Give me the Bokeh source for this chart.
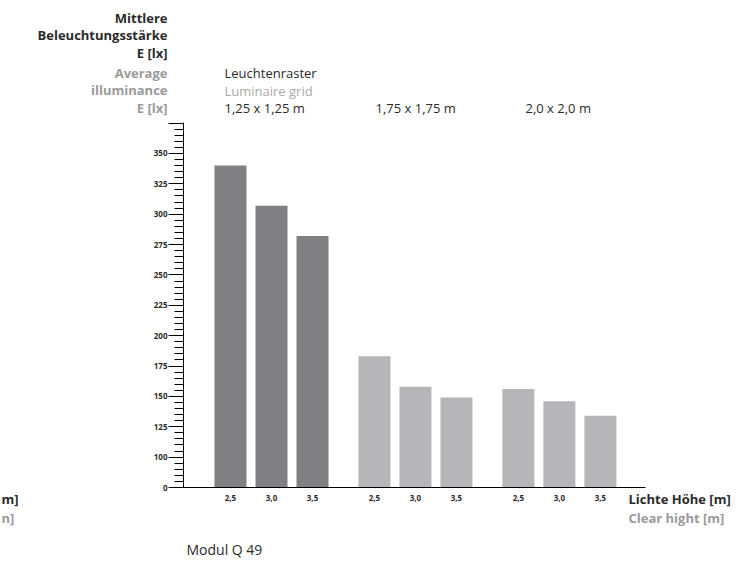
from bokeh.plotting import figure
from bokeh.models import ColumnDataSource, Range1d, FixedTicker
from bokeh.core.properties import value
from bokeh.embed import file_html
from bokeh.resources import INLINE

# ---- data -------------------------------------------------------------
grids = ["1,25 x 1,25 m", "1,75 x 1,75 m", "2,0 x 2,0 m"]
heights = ["2,5", "3,0", "3,5"]
values_125 = [340, 307, 282]
values_175 = [183, 158, 149]
values_200 = [156, 146, 134]
y_ticks = [0, 100, 125, 150, 175, 200, 225, 250, 275, 300, 325, 350, 375]
y_tick_labels = ["0", "100", "125", "150", "175", "200", "225", "250",
                 "275", "300", "325", "350", ""]

# broken value axis: "0" is drawn one major step below 100
AXIS_ZERO = 75
GROUP_GAP = 0.51
FONT = "Open Sans"
DARK = "#2b2b2b"
GREY = "#9a9a9a"
LIGHT_GREY = "#ababab"
BAR_DARK = "#7f8084"
BAR_LIGHT = "#b5b6b9"

# ---- geometry ----------------------------------------------------------
W, H = 750, 563
B_LEFT, B_TOP, B_RIGHT, B_BOTTOM = 183, 122, 105, 76
X0, X1 = -1.146, 10.12
Y0, Y1 = AXIS_ZERO, 375.5

def px2x(px):
    return X0 + (px - B_LEFT) / (W - B_LEFT - B_RIGHT) * (X1 - X0)

def py2y(py):
    return Y0 + (H - B_BOTTOM - py) / (H - B_TOP - B_BOTTOM) * (Y1 - Y0)

series = [values_125, values_175, values_200]
colors = [BAR_DARK, BAR_LIGHT, BAR_LIGHT]

xs, tops, cols, xlabels = [], [], [], []
i = 0
for g, vals in enumerate(series):
    for h, v in zip(heights, vals):
        xs.append(i + g * GROUP_GAP)
        tops.append(v)
        cols.append(colors[g])
        xlabels.append(h)
        i += 1

def ymap(v):
    return AXIS_ZERO if v == 0 else v

src = ColumnDataSource(dict(x=xs, top=tops, color=cols))

p = figure(width=W, height=H, output_backend="svg", toolbar_location=None,
           x_range=Range1d(X0, X1), y_range=Range1d(Y0, Y1),
           min_border_left=B_LEFT, min_border_top=B_TOP,
           min_border_right=B_RIGHT, min_border_bottom=B_BOTTOM)
p.outline_line_color = None
p.xgrid.visible = False
p.ygrid.visible = False
p.background_fill_color = "white"

p.vbar(x="x", top="top", bottom=AXIS_ZERO, width=0.78, color="color",
       line_color=None, source=src)

# y axis
yt = [ymap(t) for t in y_ticks]
p.yaxis.ticker = FixedTicker(ticks=yt, minor_ticks=list(range(AXIS_ZERO, 376, 5)))
p.yaxis.major_label_overrides = {t: l for t, l in zip(yt, y_tick_labels)}
p.yaxis.major_tick_out = 15
p.yaxis.major_tick_in = 0
p.yaxis.minor_tick_out = 9
p.yaxis.minor_tick_in = 0
p.yaxis.major_label_standoff = 1
p.yaxis.major_label_text_font = FONT
p.yaxis.major_label_text_font_style = "bold"
p.yaxis.major_label_text_font_size = "8px"
p.yaxis.major_label_text_color = DARK
p.yaxis.axis_line_color = "black"
p.yaxis.major_tick_line_color = "black"
p.yaxis.minor_tick_line_color = "black"

# x axis
p.xaxis.ticker = FixedTicker(ticks=xs)
p.xaxis.major_label_overrides = {x: l for x, l in zip(xs, xlabels)}
p.xaxis.major_tick_out = 0
p.xaxis.major_tick_in = 0
p.xaxis.minor_tick_out = 0
p.xaxis.minor_tick_in = 0
p.xaxis.major_label_standoff = 7
p.xaxis.major_label_text_font = FONT
p.xaxis.major_label_text_font_style = "bold"
p.xaxis.major_label_text_font_size = "8px"
p.xaxis.major_label_text_color = DARK
p.xaxis.axis_line_color = "black"

def lab(text, px, py, color=DARK, bold=False, size="13px", align="left"):
    p.text(x=[px2x(px)], y=[py2y(py)], text=[text], text_font=value(FONT),
           text_font_size=size, text_color=color,
           text_font_style="bold" if bold else "normal",
           text_align=align, text_baseline="middle", level="overlay")

# y title (German / English)
lab("Mittlere", 167, 17, DARK, True, align="right")
lab("Beleuchtungsstärke", 167, 34, DARK, True, align="right")
lab("E [lx]", 167, 52, DARK, True, align="right")
lab("Average", 167, 72, GREY, True, align="right")
lab("illuminance", 167, 89, GREY, True, align="right")
lab("E [lx]", 167, 107, GREY, True, align="right")

# group header
lab("Leuchtenraster", 224, 72, DARK)
lab("Luminaire grid", 224, 90, LIGHT_GREY)
for gx, gname in zip([224, 375, 525], grids):
    lab(gname, gx, 107, DARK)

# x title
lab("Lichte Höhe [m]", 628, 498, DARK, True)
lab("Clear hight [m]", 628, 517, GREY, True)
# visible remains of the neighbouring chart's x title
lab("m]", 1, 498, DARK, True)
lab("n]", 1, 517, GREY, True)

lab("Modul Q 49", 186, 549, DARK, False, size="14px")

open("out.html", "w").write(file_html(p, INLINE))
